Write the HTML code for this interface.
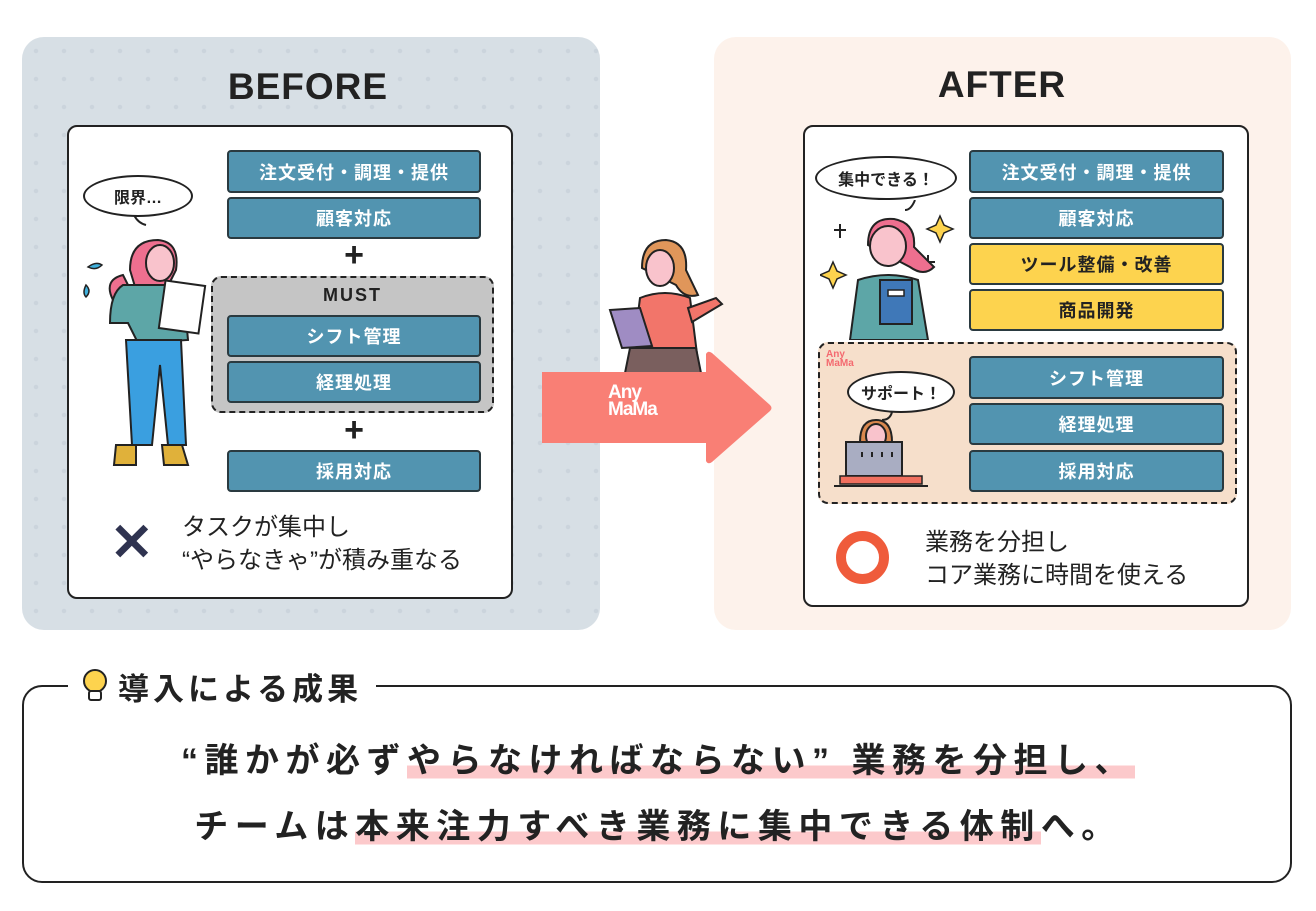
<!DOCTYPE html>
<html><head><meta charset="utf-8"><style>
*{margin:0;padding:0;box-sizing:border-box}
body{width:1316px;height:911px;background:#fff;position:relative;overflow:hidden;font-family:"Liberation Sans","Noto Sans CJK JP",sans-serif;color:#222}
.a{position:absolute}
.panel{position:absolute;border-radius:22px}
.title{position:absolute;font-weight:bold;font-size:37px;text-align:center;width:300px;letter-spacing:1px}
.wbox{position:absolute;background:#fff;border:2.5px solid #222;border-radius:10px}
.bx{position:absolute;background:#5294b0;border:2px solid #2a3a40;border-radius:4px;color:#fff;font-weight:bold;font-size:18px;display:flex;align-items:center;justify-content:center;letter-spacing:1px}
.yl{background:#fdd34e;color:#222}
.plus{position:absolute;font-size:34px;font-weight:bold;width:40px;text-align:center;line-height:34px}
.dash{position:absolute;border:2.5px dashed #222;border-radius:10px}
.txt{position:absolute;font-size:24px;line-height:33px;color:#222}
.bub{position:absolute;background:#fff;border:2px solid #222;border-radius:50%;font-weight:bold;font-size:16px;display:flex;align-items:center;justify-content:center}
.hl{background:linear-gradient(transparent 62%,#fcc9cb 62%,#fcc9cb 96%,transparent 96%)}
.big{position:absolute;left:0;width:1316px;text-align:center;font-weight:bold;font-size:34px;letter-spacing:6.5px;white-space:nowrap}
</style></head><body>
<div class="panel" style="left:22px;top:37px;width:578px;height:593px;background:#d7dfe5;background-image:radial-gradient(#cbd4dc 2px,transparent 2.5px);background-size:28px 28px"></div>
<div class="panel" style="left:714px;top:37px;width:577px;height:593px;background:#fdf2eb"></div>
<div class="title" style="left:158px;top:66px">BEFORE</div>
<div class="title" style="left:852px;top:64px">AFTER</div>

<!-- BEFORE -->
<div class="wbox" style="left:67px;top:125px;width:446px;height:474px"></div>
<div class="bx" style="left:227px;top:150px;width:254px;height:43px">注文受付・調理・提供</div>
<div class="bx" style="left:227px;top:197px;width:254px;height:42px">顧客対応</div>
<div class="plus" style="left:334px;top:238px">+</div>
<div class="dash" style="left:211px;top:276px;width:283px;height:137px;background:#c5c5c5"></div>
<div class="a" style="left:211px;top:285px;width:283px;text-align:center;font-weight:bold;font-size:18px;letter-spacing:2px">MUST</div>
<div class="bx" style="left:227px;top:315px;width:254px;height:42px">シフト管理</div>
<div class="bx" style="left:227px;top:361px;width:254px;height:42px">経理処理</div>
<div class="plus" style="left:334px;top:413px">+</div>
<div class="bx" style="left:227px;top:450px;width:254px;height:42px">採用対応</div>
<div class="a" style="left:110px;top:517px;font-size:52px;line-height:52px;color:#2f3350;font-weight:bold">✕</div>
<div class="txt" style="left:182px;top:511px">タスクが集中し<br>“やらなきゃ”が積み重なる</div>
<div class="bub" style="left:83px;top:175px;width:110px;height:42px">限界…</div>
<svg class="a" style="left:78px;top:215px" width="140" height="260" viewBox="0 0 140 260">
<path d="M56 0 q4 8 12 10" fill="none" stroke="#222" stroke-width="2"/>
<path d="M10 52 q8 -6 14 -2 q-6 6 -14 2z M8 70 q-4 8 0 12 q6 -6 0 -12z" fill="#3fb0dc" stroke="#222" stroke-width="1.5"/>
<path d="M52 55 q0 -30 28 -30 q22 2 18 30 l-10 20 l-30 0z" fill="#ee6f8f" stroke="#222" stroke-width="2"/>
<path d="M45 60 q-20 5 -10 25 q10 5 20 -5z" fill="#ee6f8f" stroke="#222" stroke-width="2"/>
<ellipse cx="82" cy="48" rx="14" ry="18" fill="#f9c3cc" stroke="#222" stroke-width="2"/>
<path d="M45 70 l60 0 l5 55 l-50 3 l-10 -20 l-18 0 q0 -30 13 -38z" fill="#5da6a7" stroke="#222" stroke-width="2"/>
<rect x="84" y="68" width="40" height="48" fill="#fff" stroke="#222" stroke-width="2" transform="rotate(8 104 92)"/>
<path d="M48 125 l55 0 l5 105 l-18 0 l-8 -80 l-8 80 l-20 0z" fill="#3a9fe0" stroke="#222" stroke-width="2"/>
<path d="M38 230 l20 0 l0 20 l-22 0z M84 230 l20 0 l6 20 l-24 0z" fill="#e0b13a" stroke="#222" stroke-width="2"/>
</svg>

<!-- AFTER -->
<div class="wbox" style="left:803px;top:125px;width:446px;height:482px"></div>
<div class="bx" style="left:969px;top:150px;width:255px;height:43px">注文受付・調理・提供</div>
<div class="bx" style="left:969px;top:197px;width:255px;height:42px">顧客対応</div>
<div class="bx yl" style="left:969px;top:243px;width:255px;height:42px">ツール整備・改善</div>
<div class="bx yl" style="left:969px;top:289px;width:255px;height:42px">商品開発</div>
<div class="bub" style="left:815px;top:156px;width:142px;height:44px">集中できる！</div>
<svg class="a" style="left:820px;top:200px" width="140" height="140" viewBox="0 0 140 140">
<path d="M95 0 q-4 10 -10 10" fill="none" stroke="#222" stroke-width="2"/>
<path d="M120 16 l4 9 l9 4 l-9 4 l-4 9 l-4 -9 l-9 -4 l9 -4z M13 62 l4 9 l9 4 l-9 4 l-4 9 l-4 -9 l-9 -4 l9 -4z" fill="#fdd34e" stroke="#222" stroke-width="1.5"/>
<path d="M20 24 l0 14 M14 30 l12 0 M108 55 l0 14 M101 62 l14 0" stroke="#222" stroke-width="2"/>
<path d="M48 45 q0 -28 26 -26 q22 4 20 28 l20 20 q-10 10 -24 0z" fill="#ee6f8f" stroke="#222" stroke-width="2"/>
<ellipse cx="68" cy="46" rx="18" ry="20" fill="#f9c3cc" stroke="#222" stroke-width="2"/>
<path d="M30 140 l8 -60 q30 -10 60 0 l10 60z" fill="#5da6a7" stroke="#222" stroke-width="2"/>
<rect x="60" y="80" width="32" height="44" fill="#3f78b8" stroke="#222" stroke-width="2"/>
<rect x="68" y="90" width="16" height="6" fill="#fff" stroke="#222" stroke-width="1.5"/>
</svg>
<div class="dash" style="left:818px;top:342px;width:419px;height:162px;background:#f6dfcb"></div>
<div class="a" style="left:826px;top:350px;font-size:10px;line-height:9px;font-weight:bold;color:#f46a70">Any<br>MaMa</div>
<div class="bx" style="left:969px;top:356px;width:255px;height:43px">シフト管理</div>
<div class="bx" style="left:969px;top:403px;width:255px;height:42px">経理処理</div>
<div class="bx" style="left:969px;top:450px;width:255px;height:42px">採用対応</div>
<div class="bub" style="left:847px;top:371px;width:108px;height:42px">サポート！</div>
<svg class="a" style="left:832px;top:412px" width="100" height="80" viewBox="0 0 100 80">
<path d="M60 0 q-2 8 -10 8" fill="none" stroke="#222" stroke-width="2"/>
<path d="M28 30 q0 -22 16 -22 q16 0 16 22z" fill="#d9874e" stroke="#222" stroke-width="2"/>
<ellipse cx="44" cy="24" rx="10" ry="12" fill="#f9c3cc" stroke="#222" stroke-width="2"/>
<rect x="14" y="30" width="56" height="34" fill="#a9adc2" stroke="#222" stroke-width="2"/>
<path d="M30 40 l0 5 M40 40 l0 5 M50 40 l0 5 M60 40 l0 5" stroke="#222" stroke-width="2"/>
<rect x="8" y="64" width="82" height="8" fill="#f1705f" stroke="#222" stroke-width="1.5"/>
<path d="M2 74 l94 0" stroke="#222" stroke-width="2"/>
</svg>
<div class="a" style="left:836px;top:531px;width:53px;height:53px;border:10px solid #ef5b3b;border-radius:50%"></div>
<div class="txt" style="left:925px;top:526px">業務を分担し<br>コア業務に時間を使える</div>

<!-- Arrow + figure -->
<svg class="a" style="left:600px;top:238px" width="130" height="140" viewBox="0 0 130 140">
<path d="M42 30 q0 -28 24 -28 q22 2 20 30 l12 25 q-14 4 -22 -10z" fill="#e0965a" stroke="#222" stroke-width="2"/>
<ellipse cx="60" cy="30" rx="14" ry="18" fill="#f9c3cc" stroke="#222" stroke-width="2"/>
<path d="M30 140 l10 -80 q25 -10 50 0 l10 80z" fill="#f2756a" stroke="#222" stroke-width="2"/>
<path d="M88 70 l28 -10 l6 6 l-30 18z" fill="#f2756a" stroke="#222" stroke-width="2"/>
<path d="M10 72 l30 -2 l12 38 l-30 2z" fill="#9f8cc3" stroke="#222" stroke-width="2"/>
<path d="M30 110 l66 0 l6 30 l-78 0z" fill="#7a5f5e" stroke="#222" stroke-width="2"/>
</svg>
<svg class="a" style="left:540px;top:350px" width="235" height="116" viewBox="0 0 235 116">
<path d="M2 22 L166 22 L166 4 Q168 0 172 3 L230 55 Q233 58 230 61 L172 112 Q168 115 166 111 L166 93 L2 93 Z" fill="#f97f75"/>
</svg>
<div class="a" style="left:608px;top:384px;color:#fff;font-weight:bold;font-size:19px;line-height:17px;letter-spacing:-1px">Any<br>MaMa</div>

<!-- Bottom -->
<div class="a" style="left:22px;top:685px;width:1270px;height:198px;border:2.5px solid #222;border-radius:20px"></div>
<div class="a" style="left:68px;top:664px;height:44px;padding:0 14px 0 12px;background:#fff;display:flex;align-items:center;font-weight:bold;font-size:31px;letter-spacing:4px">
<svg width="30" height="36" viewBox="0 0 30 36" style="margin-right:8px"><circle cx="15" cy="13" r="11" fill="#fdd34e" stroke="#222" stroke-width="2"/><rect x="9" y="23" width="12" height="9" rx="2" fill="#fff" stroke="#222" stroke-width="2"/></svg>導入による成果</div>
<div class="big" style="top:733px">“誰かが必ず<span class="hl">やらなければならない” 業務を分担し、</span></div>
<div class="big" style="top:799px">チームは<span class="hl">本来注力すべき業務に集中できる体制</span>へ。</div>
</body></html>
